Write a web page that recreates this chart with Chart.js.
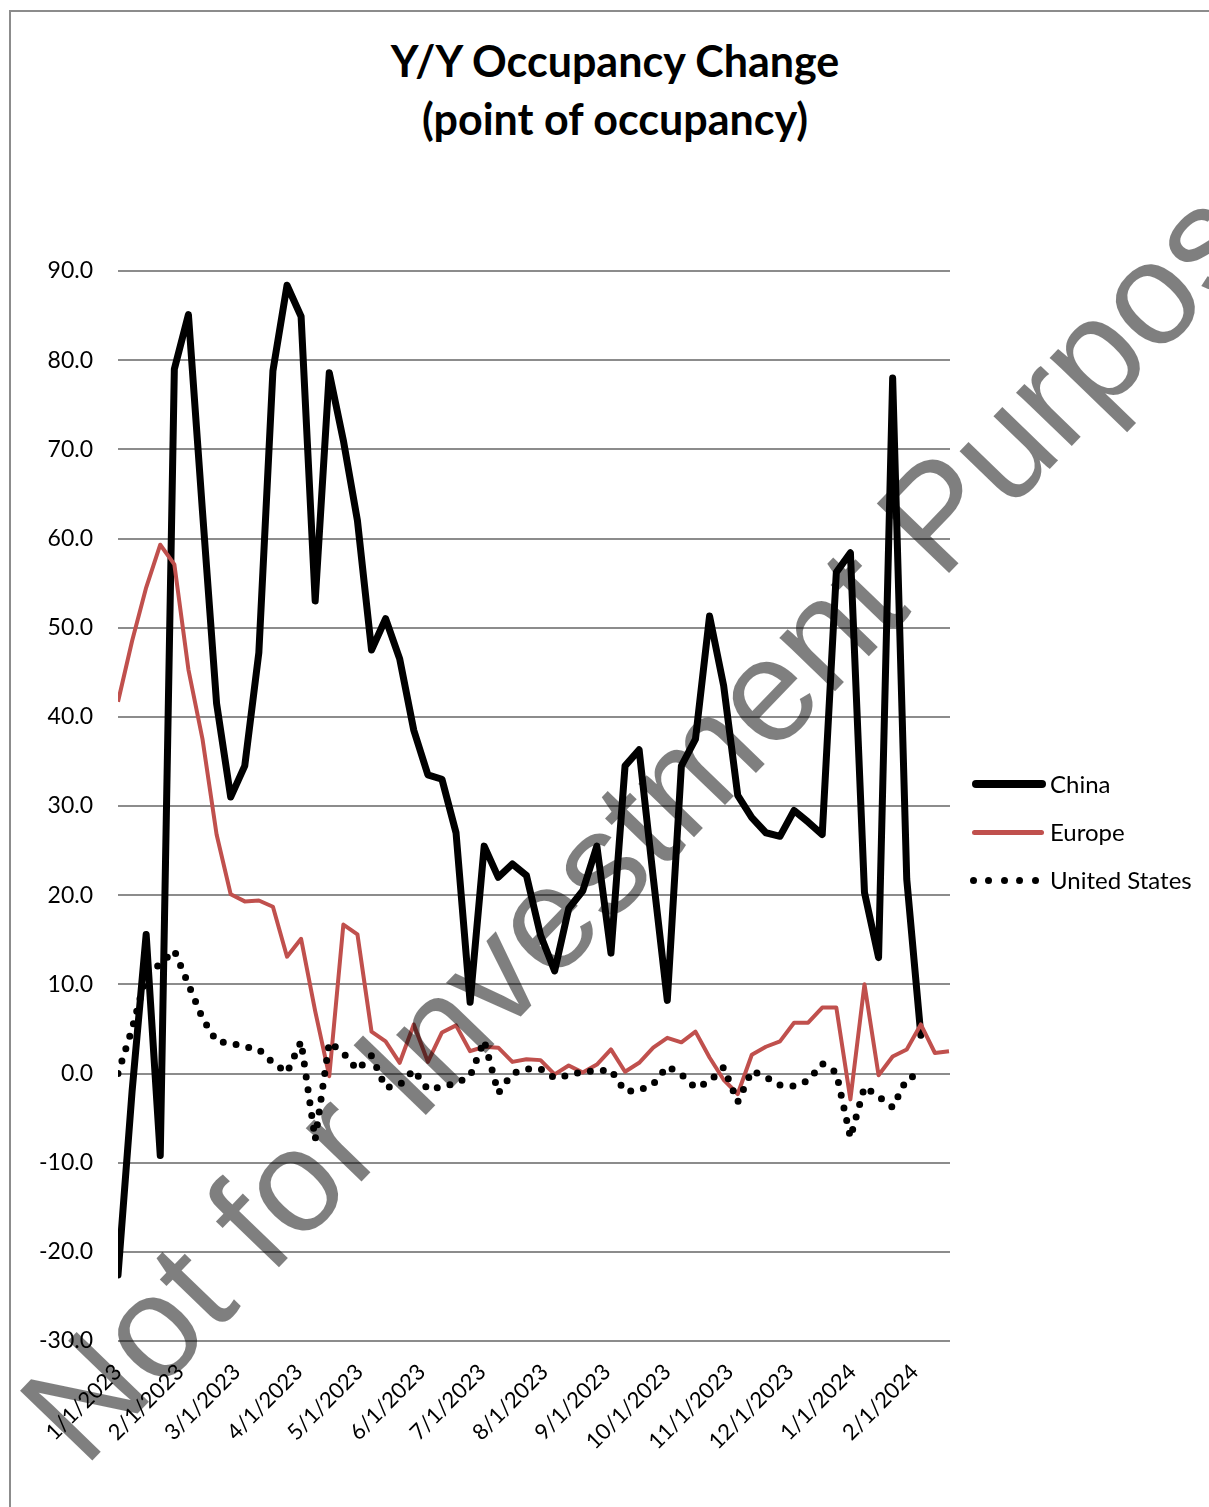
<!DOCTYPE html>
<html><head><meta charset="utf-8">
<script src="https://cdn.jsdelivr.net/npm/chart.js@4.4.1/dist/chart.umd.min.js"></script>
<style>
html,body{margin:0;padding:0;background:#fff;overflow:hidden;}
#wrap{position:relative;width:1209px;height:1507px;overflow:hidden;font-family:Lato,'Open Sans',sans-serif;color:#000;}
#frame{position:absolute;left:9px;top:10px;width:1400px;height:1700px;border:2px solid #8c8c8c;}
#title{position:absolute;left:0;width:1230px;top:32px;text-align:center;font-weight:700;font-size:43px;line-height:58px;}
#c{position:absolute;left:0;top:0;}
.lg{position:absolute;left:1050px;font-size:24px;line-height:30px;}
.sw{position:absolute;}
.dot{position:absolute;width:7px;height:7px;border-radius:50%;background:#000;}
#wm{position:absolute;left:84px;top:1346px;font-family:'Liberation Sans',Arial,sans-serif;font-size:146px;line-height:146px;white-space:nowrap;color:rgba(0,0,0,0.5);transform-origin:0 123px;transform:rotate(-46deg);pointer-events:none;}
</style></head>
<body>
<div id="wrap">
  <div id="frame"></div>
  <div id="title">Y/Y Occupancy Change<br>(point of occupancy)</div>
  <canvas id="c" width="1209" height="1507"></canvas>
  <div class="sw" style="left:972px;top:780px;width:74px;height:8px;border-radius:4px;background:#000;"></div>
  <div class="lg" style="top:769px;">China</div>
  <div class="sw" style="left:972px;top:830px;width:72px;height:5px;border-radius:3px;background:#C0504D;"></div>
  <div class="lg" style="top:817px;">Europe</div>
  <div class="dot" style="left:970px;top:877px;"></div>
  <div class="dot" style="left:985px;top:877px;"></div>
  <div class="dot" style="left:1001px;top:877px;"></div>
  <div class="dot" style="left:1016px;top:877px;"></div>
  <div class="dot" style="left:1032px;top:877px;"></div>
  <div class="lg" style="top:865px;">United States</div>
  <div id="wm">Not for Investment Purposes</div>
</div>
<script>
const weeks = ['2023-01-01','2023-01-08','2023-01-15','2023-01-22','2023-01-29',
 '2023-02-05','2023-02-12','2023-02-19','2023-02-26',
 '2023-03-05','2023-03-12','2023-03-19','2023-03-26',
 '2023-04-02','2023-04-09','2023-04-16','2023-04-23','2023-04-30',
 '2023-05-07','2023-05-14','2023-05-21','2023-05-28',
 '2023-06-04','2023-06-11','2023-06-18','2023-06-25',
 '2023-07-02','2023-07-09','2023-07-16','2023-07-23','2023-07-30',
 '2023-08-06','2023-08-13','2023-08-20','2023-08-27',
 '2023-09-03','2023-09-10','2023-09-17','2023-09-24',
 '2023-10-01','2023-10-08','2023-10-15','2023-10-22','2023-10-29',
 '2023-11-05','2023-11-12','2023-11-19','2023-11-26',
 '2023-12-03','2023-12-10','2023-12-17','2023-12-24','2023-12-31',
 '2024-01-07','2024-01-14','2024-01-21','2024-01-28',
 '2024-02-04','2024-02-11','2024-02-18'];

const china = [-22.6,-2,15.6,-9.2,79,85.1,63,41.5,31,34.5,
 47.2,78.8,88.4,84.9,53,78.6,71,62,47.5,51,
 46.5,38.5,33.5,33,27,8,25.5,22,23.5,22.2,
 15.5,11.5,18.5,20.5,25.5,13.5,34.5,36.3,22,8.2,
 34.5,37.5,51.3,43.5,31.2,28.7,27,26.6,29.5,28.2,
 26.8,56.2,58.4,20.3,13.0,78,21.8,4.3];

const europe = [41.7,48.5,54.5,59.3,57.1,45.3,37.5,26.8,20.1,19.3,
 19.4,18.7,13.1,15.1,7,-0.3,16.7,15.6,4.7,3.6,
 1.2,5.5,1.3,4.6,5.4,2.5,3.0,2.9,1.3,1.6,
 1.5,-0.1,0.9,0.1,1.0,2.7,0.2,1.2,2.9,4.0,
 3.5,4.7,1.8,-0.7,-2.3,2.1,3.0,3.6,5.7,5.7,
 7.4,7.4,-2.9,10,-0.2,1.9,2.7,5.5,2.3,2.5];

const us = [0,5,11,12.3,13.8,10,6.2,3.6,3.4,3.0,
 2.7,1.2,0.1,3.6,-7.4,3.5,2.3,0.4,2.0,-1.6,
 -1.3,0.4,-1.8,-1.5,-1.1,-0.3,3.7,-2.2,0,0.5,
 0.5,-0.5,-0.2,0.2,0.3,0.4,-2.0,-1.9,-1.2,0.8,
 -0.1,-1.6,-0.9,0.7,-3.2,0.3,-0.4,-1.3,-1.4,-0.8,
 1.1,0.1,-7.2,-1.5,-2.6,-3.8,-0.6,0];

const tickLabels = ['1/1/2023','2/1/2023','3/1/2023','4/1/2023','5/1/2023','6/1/2023',
 '7/1/2023','8/1/2023','9/1/2023','10/1/2023','11/1/2023','12/1/2023','1/1/2024','2/1/2024'];

const yTicks = [-30,-20,-10,0,10,20,30,40,50,60,70,80,90];

const T0 = Date.UTC(2023,0,1);
function isoDay(s){const p=s.split('-').map(Number);return (Date.UTC(p[0],p[1]-1,p[2])-T0)/86400000;}
function mdyDay(s){const p=s.split('/').map(Number);return (Date.UTC(p[2],p[0]-1,p[1])-T0)/86400000;}
function pts(vals){return vals.map((v,i)=>({x:isoDay(weeks[i]),y:v}));}

function draw(){
 new Chart(document.getElementById('c'),{
  type:'line',
  data:{datasets:[
   {label:'China',data:pts(china),borderColor:'#000',borderWidth:7,pointRadius:0,order:2,borderJoinStyle:'round',borderCapStyle:'round',tension:0},
   {label:'Europe',data:pts(europe),borderColor:'#C0504D',borderWidth:4,pointRadius:0,order:1,borderJoinStyle:'round',tension:0},
   {label:'United States',data:pts(us),borderColor:'#000',borderWidth:7,borderDash:[0,13],borderCapStyle:'round',pointRadius:0,order:0,tension:0}
  ]},
  options:{
   responsive:false,animation:false,devicePixelRatio:1,
   layout:{padding:{top:271,right:259,left:0,bottom:0}},
   plugins:{legend:{display:false},title:{display:false},tooltip:{enabled:false}},
   scales:{
    x:{type:'linear',min:0,max:isoDay(weeks[weeks.length-1])+0.5,
       grid:{display:false},border:{display:false},
       afterBuildTicks:s=>{s.ticks=tickLabels.map(t=>({value:mdyDay(t)}));},
       afterFit:s=>{s.height=166;},
       ticks:{autoSkip:false,maxRotation:45,minRotation:45,padding:10,color:'#000',
         font:{family:'Lato',size:22},callback:(v,i)=>tickLabels[i]}},
    y:{min:-30,max:90,
       afterBuildTicks:s=>{s.ticks=yTicks.map(v=>({value:v}));},
       afterFit:s=>{s.width=118;},
       grid:{color:'#8c8c8c',lineWidth:2,drawTicks:false},border:{display:false},
       ticks:{padding:25,color:'#000',font:{family:'Lato',size:23},callback:v=>Number(v).toFixed(1)}}
   }
  }
 });
}
if(document.fonts&&document.fonts.load){
 Promise.all([document.fonts.load('22px Lato'),document.fonts.load('bold 43px Lato')]).then(draw,draw);
}else draw();
</script>
</body></html>
